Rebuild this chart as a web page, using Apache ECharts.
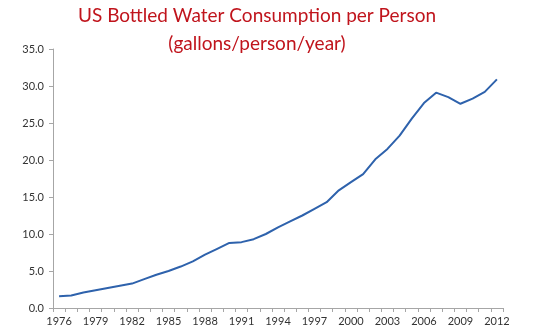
<!DOCTYPE html>
<html>
<head>
<meta charset="utf-8">
<script src="https://cdn.jsdelivr.net/npm/echarts@6/dist/echarts.min.js"></script>
<style>html,body{margin:0;padding:0;background:#fff;}#c{width:540px;height:335px;}</style>
</head>
<body>
<div id="c"></div>
<script>
var years = [];
for (var y = 1976; y <= 2012; y++) years.push(String(y));
var consumption = [1.6, 1.7, 2.1, 2.4, 2.7, 3.0, 3.3, 3.9, 4.5, 5.0, 5.6, 6.3, 7.2, 8.0, 8.8, 8.9, 9.3, 10.0, 10.9, 11.7, 12.5, 13.4, 14.3, 15.9, 17.0, 18.1, 20.1, 21.5, 23.3, 25.6, 27.7, 29.1, 28.5, 27.6, 28.3, 29.2, 30.9];
var titleLines = ["US Bottled Water Consumption per Person", "(gallons/person/year)"];

var chart = echarts.init(document.getElementById('c'), null, {renderer: 'canvas'});
chart.setOption({
  animation: false,
  title: {
    text: titleLines.join('\n'),
    left: 257, top: 2, padding: 0, textAlign: 'center',
    textStyle: {color: '#C0141C', fontFamily: 'Lato', fontWeight: 'normal', fontSize: 19, lineHeight: 28}
  },
  grid: {left: 53, right: 37, top: 49, bottom: 27, containLabel: false},
  xAxis: {
    type: 'category', data: years, boundaryGap: true,
    axisLine: {lineStyle: {color: '#A6A6A6', width: 1}},
    axisTick: {show: true, interval: 0, length: 4, lineStyle: {color: '#A6A6A6'}},
    axisLabel: {interval: 2, color: '#333', fontFamily: 'Lato', fontSize: 11, margin: 8}
  },
  yAxis: {
    type: 'value', min: 0, max: 35, interval: 5,
    axisLine: {show: true, lineStyle: {color: '#A6A6A6', width: 1}},
    axisTick: {show: true, length: 4, lineStyle: {color: '#A6A6A6'}},
    splitLine: {show: false},
    axisLabel: {color: '#333', fontFamily: 'Lato', fontSize: 11, margin: 9, formatter: function (v) { return v.toFixed(1); }}
  },
  series: [{
    type: 'line', data: consumption, showSymbol: false, symbol: 'none',
    lineStyle: {color: '#2E62AC', width: 2}
  }]
});
</script>
</body>
</html>
